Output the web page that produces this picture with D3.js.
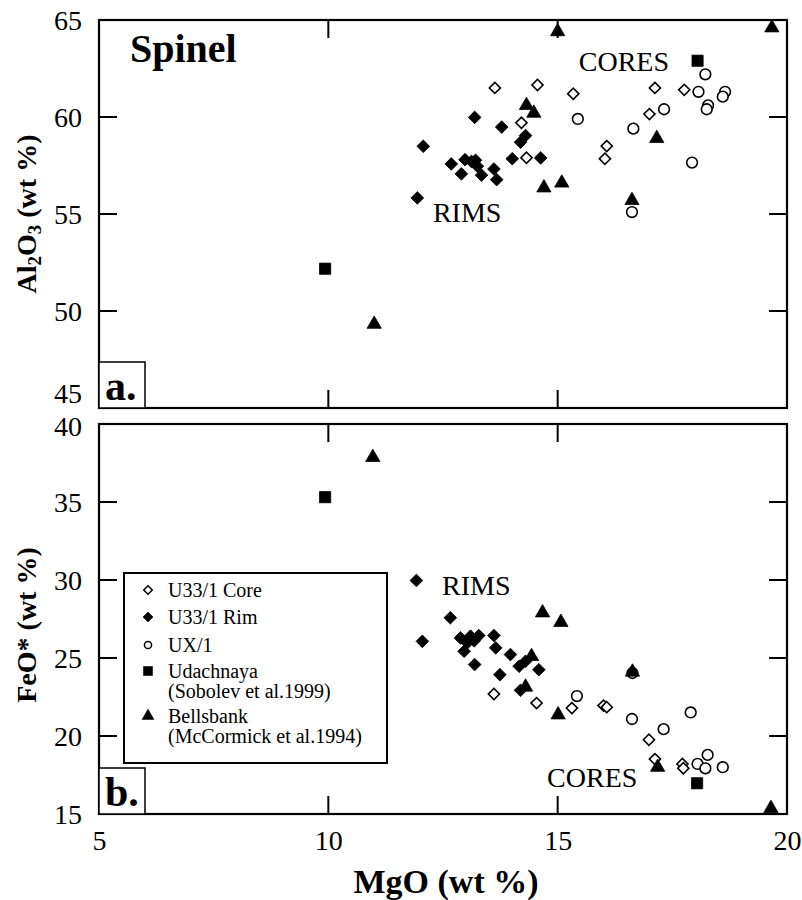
<!DOCTYPE html>
<html>
<head>
<meta charset="utf-8">
<script src="https://cdn.jsdelivr.net/npm/d3@7"></script>
<style>
  body { margin: 0; background: #fff; }
  svg text { font-family: "Liberation Serif", "Times New Roman", serif; fill: #000; }
</style>
</head>
<body>
<div id="canvas"></div>
<script>
// MgO vs Al2O3 (panel a) and MgO vs FeO* (panel b), spinel
var xTicks = [5, 10, 15, 20],
    alTicks = [45, 50, 55, 60, 65],
    feTicks = [15, 20, 25, 30, 35, 40];

// U33/1 Core (open diamonds)
var coreAl = [[13.63,61.5],[14.56,61.65],[15.34,61.2],[17.12,61.5],[17.76,61.4],[14.21,59.7],
              [14.32,57.9],[17.0,60.15],[16.07,58.5],[16.03,57.85]];
var coreFe = [[13.61,22.69],[14.54,22.11],[15.31,21.79],[16.0,21.95],[16.07,21.85],[16.99,19.76],
              [17.12,18.52],[17.72,18.21],[17.74,17.93]];
// U33/1 Rim (filled diamonds)
var rimAl = [[11.94,55.83],[12.07,58.49],[12.68,57.58],[12.9,57.07],[12.98,57.8],[13.12,57.71],
             [13.19,59.98],[13.21,57.77],[13.25,57.46],[13.34,57.0],[13.61,57.32],[13.67,56.77],
             [13.78,59.48],[14.01,57.85],[14.19,58.7],[14.3,59.04],[14.63,57.89]];
var rimFe = [[11.92,29.97],[12.05,26.07],[12.66,27.58],[12.88,26.29],[12.96,25.43],[13.03,25.97],
             [13.1,26.4],[13.18,26.1],[13.19,24.58],[13.28,26.44],[13.61,26.44],[13.65,25.65],
             [13.74,23.93],[13.97,25.22],[14.16,24.47],[14.3,24.79],[14.59,24.25],[14.19,22.93]];
// UX/1 (open circles)
var uxAl = [[18.22,62.2],[18.07,61.3],[18.65,61.3],[18.6,61.05],[18.28,60.6],[18.25,60.4],
            [17.32,60.4],[16.65,59.4],[15.44,59.9],[17.93,57.65],[16.62,55.1]];
var uxFe = [[15.42,22.56],[16.62,21.09],[17.31,20.44],[17.9,21.51],[18.27,18.79],[18.05,18.21],
            [18.22,17.93],[18.6,18.0],[16.63,24.04]];
// Udachnaya (filled squares)
var udaAl = [[9.93,52.18],[18.05,62.9]];
var udaFe = [[9.93,35.31],[18.04,16.97]];
// Bellsbank (filled triangles)
var bellAl = [[15.0,64.4],[19.67,64.6],[14.32,60.6],[14.48,60.2],[17.16,58.9],[14.7,56.35],
              [15.09,56.6],[16.62,55.7],[11.0,49.32]];
var bellFe = [[10.97,37.86],[14.67,27.9],[15.07,27.29],[14.43,25.1],[14.3,23.14],[15.01,21.36],
              [16.63,24.1],[17.18,18.0],[19.65,15.36]];

var legendNames = ['U33/1 Core', 'U33/1 Rim', 'UX/1', 'Udachnaya', 'Bellsbank'];
var legendNotes = ['', '', '', '(Sobolev et al.1999)', '(McCormick et al.1994)'];

var W = 802, H = 900;
var x = d3.scaleLinear().domain([5, 20]).range([99, 787]);
var yA = d3.scaleLinear().domain([45, 65]).range([408, 20]);
var yB = d3.scaleLinear().domain([15, 40]).range([814, 424]);
var TL = 18; // inner tick length

var svg = d3.select('#canvas').append('svg')
    .attr('width', W).attr('height', H);

// marker styles per series
var styles = {
    core: {type: d3.symbolSquare, size: 62, fill: '#fff', rot: 45},
    rim:  {type: d3.symbolSquare, size: 80, fill: '#000', rot: 45},
    ux:   {type: d3.symbolCircle, size: 90, fill: '#fff', rot: 0},
    uda:  {type: d3.symbolSquare, size: 125, fill: '#000', rot: 0},
    bell: {type: d3.symbolTriangle, size: 88, fill: '#000', rot: 0}
};
var order = ['core', 'rim', 'ux', 'uda', 'bell'];

function panel(y, ticks, sets, tag, labelSpec) {
    var g = svg.append('g').attr('class', 'panel');
    var x0 = x.range()[0], x1 = x.range()[1];
    var top = y.range()[1], bot = y.range()[0];

    // tick labels via d3 axes (tick lines drawn separately below)
    g.append('g').attr('transform', 'translate(' + x0 + ',0)')
        .call(d3.axisLeft(y).tickValues(ticks).tickSize(0).tickPadding(17))
        .call(function(a) {
            a.select('.domain').remove();
            a.selectAll('line').remove();
            a.selectAll('text').style('font-size', '28px')
                .attr('dy', function(d) {
                    return d === 45 ? '-0.18em' : (d === 40 ? '0.4em' : '0.34em');
                });
        });
    if (tag === 'b.') {
        g.append('g').attr('transform', 'translate(0,' + bot + ')')
            .call(d3.axisBottom(x).tickValues(xTicks).tickSize(0).tickPadding(16))
            .call(function(a) {
                a.select('.domain').remove();
                a.selectAll('line').remove();
                a.selectAll('text').style('font-size', '28px');
            });
    }

    // inner ticks on all four sides
    var inY = ticks.slice(1, -1), inX = xTicks.slice(1, -1);
    var tk = g.append('g').attr('class', 'ticks');
    function tline(sel) {
        return sel.append('line').attr('stroke', '#000').attr('stroke-width', 2);
    }
    inY.forEach(function(d) {
        tline(tk).attr('x1', x0).attr('x2', x0 + TL).attr('y1', y(d)).attr('y2', y(d));
        tline(tk).attr('x1', x1 - TL).attr('x2', x1).attr('y1', y(d)).attr('y2', y(d));
    });
    inX.forEach(function(d) {
        tline(tk).attr('x1', x(d)).attr('x2', x(d)).attr('y1', top).attr('y2', top + TL);
        tline(tk).attr('x1', x(d)).attr('x2', x(d)).attr('y1', bot - TL).attr('y2', bot);
    });

    // frame
    g.append('rect')
        .attr('x', x0).attr('y', top)
        .attr('width', x1 - x0).attr('height', bot - top)
        .attr('fill', 'none').attr('stroke', '#000').attr('stroke-width', 2.2);

    // panel tag box
    g.append('rect')
        .attr('x', x0).attr('y', bot - 46)
        .attr('width', 46).attr('height', 46)
        .attr('fill', '#fff').attr('stroke', '#000').attr('stroke-width', 1.5);
    g.append('text').attr('x', x0 + 6).attr('y', bot - 8)
        .style('font-size', '42px').style('font-weight', 'bold').text(tag);

    // series
    order.forEach(function(k) {
        var st = styles[k];
        g.selectAll('.m-' + k).data(sets[k]).enter()
            .append('path').attr('class', 'm-' + k)
            .attr('d', d3.symbol().type(st.type).size(st.size))
            .attr('transform', function(d) {
                return 'translate(' + x(d[0]) + ',' + y(d[1]) + ') rotate(' + st.rot + ')';
            })
            .attr('fill', st.fill)
            .attr('stroke', '#000')
            .attr('stroke-width', st.fill === '#fff' ? 1.6 : 0.8);
    });

    // RIMS / CORES labels
    labelSpec.forEach(function(l) {
        g.append('text').attr('x', x(l.x)).attr('y', y(l.y))
            .style('font-size', '28px').text(l.t);
    });
    return g;
}

panel(yA, alTicks, {core: coreAl, rim: rimAl, ux: uxAl, uda: udaAl, bell: bellAl}, 'a.',
      [{t: 'CORES', x: 15.46, y: 62.37}, {t: 'RIMS', x: 12.28, y: 54.6}]);
panel(yB, feTicks, {core: coreFe, rim: rimFe, ux: uxFe, uda: udaFe, bell: bellFe}, 'b.',
      [{t: 'RIMS', x: 12.48, y: 29.04}, {t: 'CORES', x: 14.77, y: 16.73}]);

// title
svg.append('text').attr('x', 130).attr('y', 62)
    .style('font-size', '40px').style('font-weight', 'bold').text('Spinel');

// axis titles
svg.append('text').attr('x', 446).attr('y', 893).attr('text-anchor', 'middle')
    .style('font-size', '34px').style('font-weight', 'bold').text('MgO (wt %)');

var alT = svg.append('text').attr('transform', 'translate(36,214) rotate(-90)')
    .attr('text-anchor', 'middle').style('font-size', '28px').style('font-weight', 'bold');
alT.append('tspan').text('Al');
alT.append('tspan').attr('dy', 5).style('font-size', '19px').text('2');
alT.append('tspan').attr('dy', -5).text('O');
alT.append('tspan').attr('dy', 5).style('font-size', '19px').text('3');
alT.append('tspan').attr('dy', -5).text(' (wt %)');

svg.append('text').attr('transform', 'translate(36,625) rotate(-90)')
    .attr('text-anchor', 'middle').style('font-size', '28px').style('font-weight', 'bold')
    .text('FeO* (wt %)');

// legend
var lg = svg.append('g').attr('transform', 'translate(124,573)');
lg.append('rect').attr('width', 263).attr('height', 190)
    .attr('fill', '#fff').attr('stroke', '#000').attr('stroke-width', 2);
var rowY = [24, 51, 79, 105, 150];
var legSize = {core: 36, rim: 50, ux: 40, uda: 80, bell: 60};
order.forEach(function(k, i) {
    var st = styles[k];
    lg.append('path')
        .attr('d', d3.symbol().type(st.type).size(legSize[k]))
        .attr('transform', 'translate(24,' + (rowY[i] - 7) + ') rotate(' + st.rot + ')')
        .attr('fill', st.fill).attr('stroke', '#000')
        .attr('stroke-width', st.fill === '#fff' ? 1.5 : 0.6);
    lg.append('text').attr('x', 44).attr('y', rowY[i])
        .style('font-size', '20px').text(legendNames[i]);
    if (legendNotes[i]) {
        lg.append('text').attr('x', 44).attr('y', rowY[i] + 20)
            .style('font-size', '20px').text(legendNotes[i]);
    }
});
</script>
</body>
</html>
